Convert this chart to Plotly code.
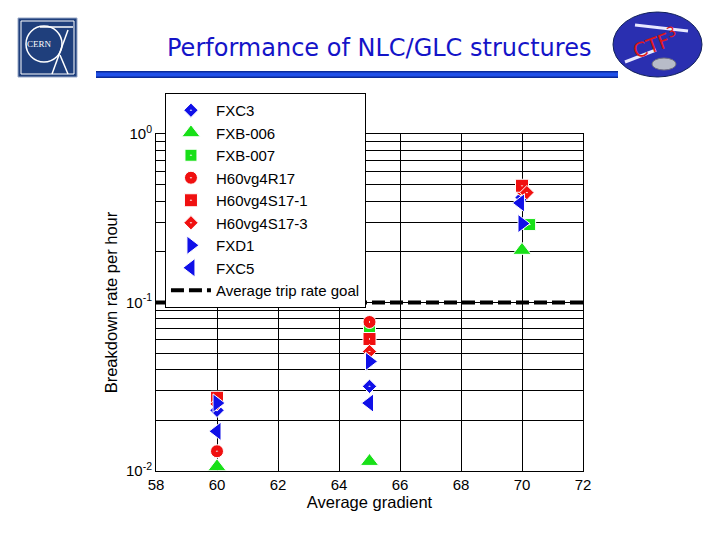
import plotly.graph_objects as go

# ---- data ----
names = ["FXC3", "FXB-006", "FXB-007", "H60vg4R17", "H60vg4S17-1", "H60vg4S17-3", "FXD1", "FXC5"]
symbols = ["diamond-dot", "triangle-up", "square-dot", "circle-dot", "square-dot", "diamond-dot", "triangle-right", "triangle-left"]
colors = ["#1010e8", "#18e018", "#18e018", "#f01010", "#f01010", "#f01010", "#1010e8", "#1010e8"]
sizes = [11, 16, 12, 13, 13, 11, 16, 16]

x_fxc3 = [60, 65, 70]
y_fxc3 = [0.0229, 0.0318, 0.42]
x_fxb006 = [60, 65, 70]
y_fxb006 = [0.0106, 0.0114, 0.204]
x_fxb007 = [60, 65, 70.25]
y_fxb007 = [0.0099, 0.0709, 0.29]
x_h60r17 = [60, 65, 70]
y_h60r17 = [0.0131, 0.0766, 0.47]
x_h60s171 = [60, 65, 70]
y_h60s171 = [0.0272, 0.0607, 0.493]
x_h60s173 = [60, 65, 70.16]
y_h60s173 = [0.025, 0.0512, 0.449]
x_fxd1 = [60, 65, 70]
y_fxd1 = [0.0253, 0.0447, 0.294]
x_fxc5 = [60, 65, 69.95]
y_fxc5 = [0.0172, 0.0253, 0.39]

xs = [x_fxc3, x_fxb006, x_fxb007, x_h60r17, x_h60s171, x_h60s173, x_fxd1, x_fxc5]
ys = [y_fxc3, y_fxb006, y_fxb007, y_h60r17, y_h60s171, y_h60s173, y_fxd1, y_fxc5]

goal_name = "Average trip rate goal"
goal_x = [58, 72]
goal_y = [0.1, 0.1]

x_ticks = [58, 60, 62, 64, 66, 68, 70, 72]
y_major = [0.01, 0.1, 1]
y_major_text = ["10<sup>-2</sup>", "10<sup>-1</sup>", "10<sup>0</sup>"]
y_minor = [m * 10 ** e for e in (-2, -1) for m in range(2, 10)]

title_text = "Performance of NLC/GLC structures"
x_title = "Average gradient"
y_title = "Breakdown rate per hour"

# ---- figure ----
fig = go.Figure()
for n, s, c, sz, x, y in zip(names, symbols, colors, sizes, xs, ys):
    fig.add_trace(go.Scatter(
        x=x, y=y, mode="markers", name=n, cliponaxis=False,
        marker=dict(symbol=s, color=c, size=sz, line=dict(color="white", width=1)),
    ))
fig.add_trace(go.Scatter(
    x=goal_x, y=goal_y, mode="lines", name=goal_name,
    line=dict(color="black", width=4, dash="13px,5px"),
))

fig.update_layout(
    width=720, height=540,
    margin=dict(l=156, r=137, t=134, b=69),
    paper_bgcolor="white", plot_bgcolor="white",
    font=dict(family="Liberation Sans, Arial, sans-serif", color="black"),
    showlegend=True,
    legend=dict(
        x=0.021, y=1 + (134 - 93) / 337, xanchor="left", yanchor="top",
        bgcolor="white", bordercolor="black", borderwidth=1,
        font=dict(size=15, color="black"),
        itemwidth=40, tracegroupgap=0,
    ),
    xaxis=dict(
        range=[58, 72], tickvals=x_ticks, showgrid=True, gridcolor="black", gridwidth=1,
        showline=True, linecolor="black", linewidth=1, mirror=True, zeroline=False,
        ticks="", tickfont=dict(size=15),
        title=dict(text=x_title, font=dict(size=16.5), standoff=4),
    ),
    yaxis=dict(
        type="log", range=[-2, 0], tickvals=y_major, ticktext=y_major_text,
        showgrid=True, gridcolor="black", gridwidth=1,
        minor=dict(tickvals=y_minor, showgrid=True, gridcolor="black", gridwidth=1, ticks=""),
        showline=True, linecolor="black", linewidth=1, mirror=True, zeroline=False,
        ticks="", tickfont=dict(size=15),
        title=dict(text=y_title, font=dict(size=16.5), standoff=4),
    ),
)

# title
fig.add_annotation(
    text=title_text, xref="paper", yref="paper", x=(379 - 156) / 427, y=1 + (134 - 48) / 337,
    xanchor="center", yanchor="middle", showarrow=False,
    font=dict(family="DejaVu Sans, sans-serif", size=24, color="#1414c8"),
)

def px_x(p):
    return (p - 156) / 427

def px_y(p):
    return 1 + (134 - p) / 337

# decorative header bar (gradient approximation)
fig.add_shape(type="rect", xref="paper", yref="paper", x0=px_x(96), x1=px_x(618), y0=px_y(78), y1=px_y(71),
              fillcolor="#0a2a9a", line=dict(width=0))
fig.add_shape(type="rect", xref="paper", yref="paper", x0=px_x(96), x1=px_x(618), y0=px_y(76.5), y1=px_y(72.5),
              fillcolor="#2050e8", line=dict(width=0))

# CERN logo approximation
fig.add_shape(type="rect", xref="paper", yref="paper", x0=px_x(18), x1=px_x(77), y0=px_y(77), y1=px_y(18),
              fillcolor="#1f3f7c", line=dict(color="#9aaac8", width=1))
fig.add_shape(type="rect", xref="paper", yref="paper", x0=px_x(21), x1=px_x(74), y0=px_y(74), y1=px_y(21),
              fillcolor="rgba(0,0,0,0)", line=dict(color="white", width=1))
fig.add_shape(type="circle", xref="paper", yref="paper", x0=px_x(26), x1=px_x(62), y0=px_y(62), y1=px_y(26),
              fillcolor="rgba(0,0,0,0)", line=dict(color="white", width=1.5))
fig.add_shape(type="line", xref="paper", yref="paper", x0=px_x(40), x1=px_x(73), y0=px_y(27), y1=px_y(27),
              line=dict(color="white", width=1.5))
fig.add_shape(type="line", xref="paper", yref="paper", x0=px_x(68), x1=px_x(52), y0=px_y(30), y1=px_y(74),
              line=dict(color="white", width=1.5))
fig.add_shape(type="line", xref="paper", yref="paper", x0=px_x(60), x1=px_x(68), y0=px_y(55), y1=px_y(74),
              line=dict(color="white", width=1.5))
fig.add_annotation(text="CERN", xref="paper", yref="paper", x=px_x(40), y=px_y(44), showarrow=False,
                   xanchor="center", yanchor="middle",
                   font=dict(family="Liberation Serif, serif", size=9, color="white"))

# CTF3 logo approximation
fig.add_shape(type="circle", xref="paper", yref="paper", x0=px_x(613), x1=px_x(702), y0=px_y(77), y1=px_y(12),
              fillcolor="#2a2fb0", line=dict(color="#10205a", width=1))
fig.add_shape(type="line", xref="paper", yref="paper", x0=px_x(635), x1=px_x(688), y0=px_y(25), y1=px_y(31),
              line=dict(color="#e8e8ff", width=3))
fig.add_shape(type="line", xref="paper", yref="paper", x0=px_x(625), x1=px_x(656), y0=px_y(62), y1=px_y(50),
              line=dict(color="#e8e8ff", width=3))
fig.add_shape(type="circle", xref="paper", yref="paper", x0=px_x(652), x1=px_x(676), y0=px_y(70), y1=px_y(58),
              fillcolor="#b8bcc8", line=dict(color="#707080", width=1))
fig.add_annotation(text="CTF<sup>3</sup>", xref="paper", yref="paper", x=px_x(655), y=px_y(43), showarrow=False,
                   xanchor="center", yanchor="middle", textangle=-20,
                   font=dict(family="DejaVu Sans, sans-serif", size=20, color="#e01818"))

fig.write_html("out.html", config={"displayModeBar": False},
               post_script="document.body.style.margin='0px';")
